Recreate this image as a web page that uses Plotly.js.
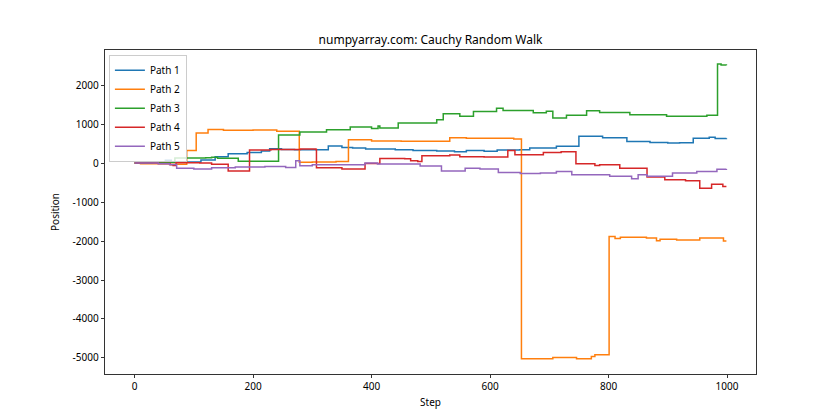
<!DOCTYPE html>
<html>
<head>
<meta charset="utf-8">
<script src="https://cdn.plot.ly/plotly-3.0.1.min.js"></script>
<style>html,body{margin:0;padding:0;background:#fff;}</style>
</head>
<body>
<div id="chart" style="width:840px;height:420px;"></div>
<script>
const chartTitle = "numpyarray.com: Cauchy Random Walk";
const xLabel = "Step";
const yLabel = "Position";
const seriesNames = ["Path 1", "Path 2", "Path 3", "Path 4", "Path 5"];
const seriesColors = ["#1f77b4", "#ff7f0e", "#2ca02c", "#d62728", "#9467bd"];

const xTickVals = [0, 200, 400, 600, 800, 1000];
const xTickText = ["0", "200", "400", "600", "800", "1000"];
const yTickVals = [2000, 1000, 0, -1000, -2000, -3000, -4000, -5000];
const yTickText = ["2000", "1000", "0", "-1000", "-2000", "-3000", "-4000", "-5000"];

// Path 1 (blue): step breakpoints and positions
const path1Steps = [0, 20, 52, 62, 112, 136, 158, 190, 214, 228, 248, 270, 300, 327, 350, 368, 390, 440, 470, 510, 540, 560, 590, 612, 650, 667, 712, 750, 790, 831, 870, 900, 920, 943, 970, 980, 999];
const path1Vals  = [0, 10, 70, 30, 80, 160, 240, 270, 310, 370, 350, 340, 345, 440, 400, 385, 360, 340, 320, 310, 290, 320, 305, 335, 340, 385, 430, 690, 650, 555, 530, 515, 525, 640, 660, 630, 640];

// Path 2 (orange)
const path2Steps = [0, 10, 60, 88, 104, 124, 150, 200, 240, 277, 278, 300, 340, 361, 400, 450, 532, 560, 640, 652, 653, 706, 746, 771, 777, 800, 801, 811, 820, 864, 881, 887, 915, 954, 994, 999];
const path2Vals  = [0, -20, -30, 320, 770, 860, 840, 850, 820, 820, 20, 30, 40, 600, 570, 560, 650, 640, 620, 620, -5020, -4986, -5020, -4960, -4918, -4918, -1886, -1938, -1903, -1920, -1990, -1955, -1971, -1920, -2000, -2000];

// Path 3 (green)
const path3Steps = [0, 30, 68, 120, 130, 140, 175, 242, 243, 279, 324, 364, 400, 411, 414, 445, 510, 521, 549, 572, 611, 622, 673, 695, 706, 729, 763, 785, 836, 898, 966, 984, 990, 999];
const path3Vals  = [0, 20, 130, 135, 150, 125, 50, 50, 720, 800, 855, 925, 890, 950, 900, 1030, 1110, 1265, 1200, 1325, 1410, 1350, 1290, 1330, 1160, 1230, 1340, 1300, 1240, 1200, 1230, 2545, 2520, 2510];

// Path 4 (red)
const path4Steps = [0, 40, 60, 65, 70, 110, 130, 158, 194, 230, 280, 306, 307, 350, 389, 414, 456, 466, 478, 485, 532, 549, 590, 630, 642, 690, 720, 745, 777, 785, 819, 865, 895, 930, 954, 974, 993, 999];
const path4Vals  = [0, -10, -45, -60, 10, 0, -30, -205, 335, 350, 360, 350, -120, -150, -10, 120, 110, 60, 40, 190, 210, 160, 155, 320, 213, 275, 290, -20, -60, -40, -130, -360, -430, -455, -645, -545, -600, -600];

// Path 5 (purple)
const path5Steps = [0, 40, 59, 71, 100, 130, 170, 220, 255, 272, 279, 300, 389, 410, 482, 518, 558, 583, 614, 651, 685, 712, 738, 802, 839, 850, 865, 908, 949, 983, 999];
const path5Vals  = [0, -15, -35, -130, -150, -120, -100, -85, -115, 60, -70, -45, 0, -25, -75, -200, -130, -150, -240, -265, -255, -215, -300, -340, -400, -300, -340, -257, -215, -155, -150];

const stepsList = [path1Steps, path2Steps, path3Steps, path4Steps, path5Steps];
const valsList = [path1Vals, path2Vals, path3Vals, path4Vals, path5Vals];

const traces = seriesNames.map((name, i) => ({
  x: stepsList[i],
  y: valsList[i],
  type: "scatter",
  mode: "lines",
  name: name,
  line: {color: seriesColors[i], width: 1.5, shape: "hv"}
}));

const fontFam = "'Noto Sans', 'DejaVu Sans', sans-serif";

const layout = {
  width: 840,
  height: 420,
  paper_bgcolor: "#ffffff",
  plot_bgcolor: "#ffffff",
  margin: {l: 105, r: 84, t: 50, b: 46, pad: 0},
  font: {family: fontFam, size: 10, color: "#000"},
  title: {
    text: chartTitle,
    font: {family: fontFam, size: 12, color: "#000"},
    x: 0.5125, xanchor: "center", xref: "container",
    y: 0.895, yanchor: "bottom", yref: "container"
  },
  showlegend: true,
  legend: {
    x: 0.006, y: 0.985, xanchor: "left", yanchor: "top",
    bgcolor: "rgba(255,255,255,0.8)",
    bordercolor: "#cccccc", borderwidth: 1,
    font: {family: fontFam, size: 10, color: "#000"},
    tracegroupgap: 0,
    itemwidth: 30
  },
  xaxis: {
    range: [-49.95, 1048.95],
    tickvals: xTickVals, ticktext: xTickText,
    ticks: "outside", ticklen: 3.5, tickwidth: 0.8, tickcolor: "#000",
    showline: true, linecolor: "#000", linewidth: 0.8, mirror: true,
    showgrid: false, zeroline: false,
    tickfont: {family: fontFam, size: 10, color: "#000"},
    title: {text: xLabel, font: {family: fontFam, size: 10, color: "#000"}, standoff: 6}
  },
  yaxis: {
    range: [-5412, 2902],
    tickvals: yTickVals, ticktext: yTickText,
    ticks: "outside", ticklen: 3.5, tickwidth: 0.8, tickcolor: "#000",
    showline: true, linecolor: "#000", linewidth: 0.8, mirror: true,
    showgrid: false, zeroline: false,
    tickfont: {family: fontFam, size: 10, color: "#000"},
    title: {text: yLabel, font: {family: fontFam, size: 10, color: "#000"}, standoff: 10}
  }
};

Plotly.newPlot("chart", traces, layout, {displayModeBar: false, staticPlot: true});
</script>
</body>
</html>
